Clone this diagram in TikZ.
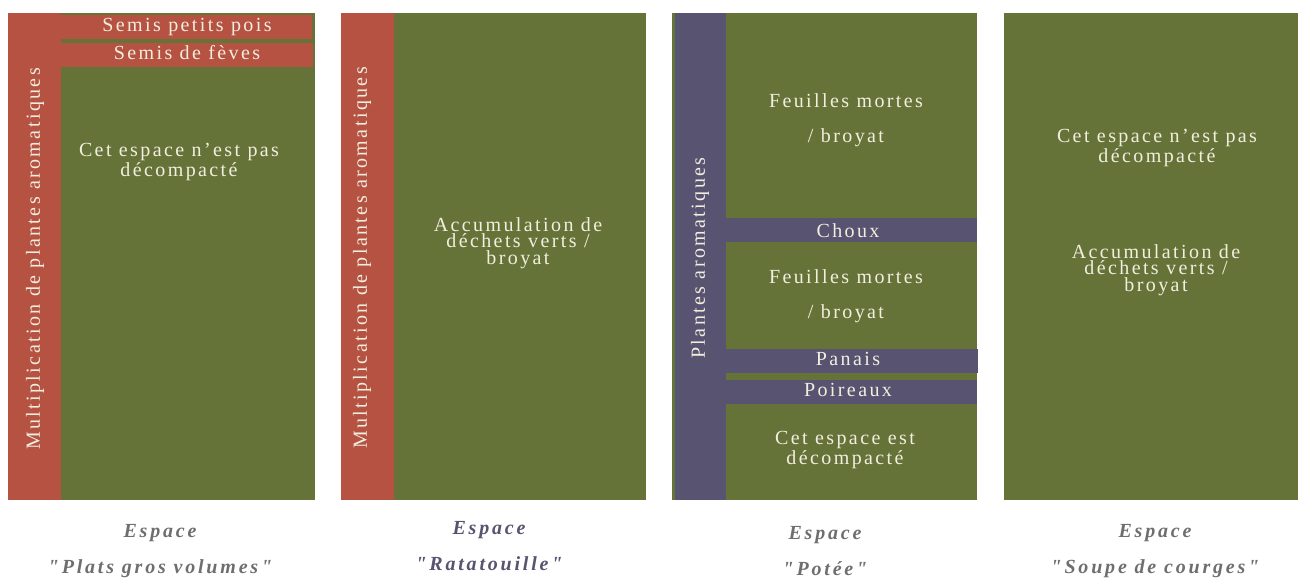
\documentclass[tikz,border=0pt]{standalone}
\usepackage{fontspec}
\setmainfont{Liberation Serif}[LetterSpace=12]
\newfontfamily\capfont{Liberation Serif}[LetterSpace=14]
\usepackage{tikz}

\definecolor{bedgreen}{HTML}{667338}
\definecolor{bedred}{HTML}{B55242}
\definecolor{bedpurple}{HTML}{575370}
\definecolor{bedtext}{HTML}{F2EEDF}
\definecolor{capgrey}{HTML}{6E6E6E}

\begin{document}
\begin{tikzpicture}[
        x=1pt, y=-1pt,
        bedtxt/.style={text=bedtext, align=center, inner sep=0pt,
            font=\fontsize{20}{16.5}\selectfont},
        sidetxt/.style={bedtxt, rotate=90},
        captxt/.style={text=capgrey, align=center, inner sep=0pt,
            font=\capfont\fontsize{20}{36}\selectfont\bfseries\itshape},
    ]
        \useasboundingbox (0,0) rectangle (1298,581);

        % Espace "Plats gros volumes"
        \fill[bedgreen] (8,13) rectangle (315,500);
        \fill[bedred] (8,13) rectangle (61,500);
        \fill[bedred] (61,15) rectangle (312,39);
        \fill[bedred] (61,43) rectangle (313,67);
        \node[bedtxt] (pois) at (187,27) {Semis petits pois};
        \node[bedtxt] (feves) at (187,53) {Semis de fèves};
        \node[bedtxt] (nondecomp) at (179,162) {Cet espace n’est pas\\décompacté};
        \node[sidetxt] (aroma) at (35,259) {Multiplication de plantes aromatiques};
        \node[captxt] (volumes) at (160,551) {Espace\\"Plats gros volumes"};

        % Espace "Ratatouille"
        \fill[bedgreen] (341,13) rectangle (646,500);
        \fill[bedred] (341,13) rectangle (394,500);
        \node[sidetxt] (aromb) at (362,258) {Multiplication de plantes aromatiques};
        \node[bedtxt] (dechets) at (518,243) {Accumulation de\\déchets verts /\\broyat};
        \node[captxt, text=bedpurple] (ratatouille) at (489,546) {Espace\\"Ratatouille"};

        % Espace "Potee"
        \fill[bedgreen] (672,13) rectangle (977,500);
        \fill[bedpurple] (675,13) rectangle (726,500);
        \fill[bedpurple] (726,218) rectangle (977,242);
        \fill[bedpurple] (726,349) rectangle (978,373);
        \fill[bedpurple] (726,380) rectangle (977,404);
        \node[bedtxt, font=\fontsize{20}{35}\selectfont] (feuilles) at (846,120) {Feuilles mortes\\/ broyat};
        \node[bedtxt] (choux) at (848,231) {Choux};
        \node[bedtxt, font=\fontsize{20}{35}\selectfont] (feuillesb) at (846,296) {Feuilles mortes\\/ broyat};
        \node[bedtxt] (panais) at (848,359) {Panais};
        \node[bedtxt] (poireaux) at (848,390) {Poireaux};
        \node[bedtxt] (decomp) at (845,450) {Cet espace est\\décompacté};
        \node[sidetxt] (aromc) at (700,258) {Plantes aromatiques};
        \node[captxt] (potee) at (825,551) {Espace\\"Potée"};

        % Espace "Soupe de courges"
        \fill[bedgreen] (1004,13) rectangle (1298,500);
        \node[bedtxt] (nondecompb) at (1157,148) {Cet espace n’est pas\\décompacté};
        \node[bedtxt] (dechetsb) at (1156,270) {Accumulation de\\déchets verts /\\broyat};
        \node[captxt] (courges) at (1155,551) {Espace\\"Soupe de courges"};
\end{tikzpicture}
\end{document}
